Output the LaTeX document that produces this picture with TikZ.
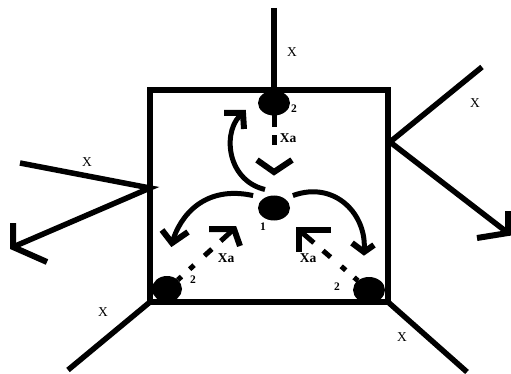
\documentclass[tikz,border=0pt]{standalone}
\usepackage{fontspec}
\setmainfont{Liberation Serif}
\usetikzlibrary{shapes.geometric}
\begin{document}
\begin{tikzpicture}[x=1pt,y=-1pt,
  extline/.style={line width=5.5pt},
  boxline/.style={draw, line width=6pt, inner sep=0pt, outer sep=0pt},
  dot/.style={ellipse, fill=black, inner sep=0pt, outer sep=0pt, minimum width=32pt, minimum height=25pt},
  lbl/.style={font=\fontsize{13.5}{13.5}\selectfont, inner sep=0pt},
  xalbl/.style={font=\bfseries\fontsize{13.5}{13.5}\selectfont, inner sep=0pt},
  num/.style={font=\bfseries\fontsize{11.5}{11.5}\selectfont, inner sep=0pt},
  flow/.style={line width=5pt},
  barb/.style={line width=6pt, line join=miter, miter limit=10},
]
\useasboundingbox (0,0) rectangle (511,374);

% square
\node[boxline, minimum width=238pt, minimum height=212pt] (box) at (269,196) {};

% external lines
\coordinate (etop) at (274,8);
\coordinate (lj) at (150,188);
\coordinate (el1) at (20,163);
\coordinate (el2) at (13,247);
\coordinate (el2a) at (13,223);
\coordinate (el2b) at (47,262);
\coordinate (rj) at (390,142);
\coordinate (er1) at (482,67);
\coordinate (er2) at (508,233);
\coordinate (er2a) at (508,211);
\coordinate (er2b) at (477,238);
\coordinate (ebl) at (68,370);
\coordinate (ebr) at (467,372);

% dots
\node[dot] (d2t) at (274,103) {};
\node[dot] (d1) at (274,208) {};
\node[dot, minimum width=30pt, minimum height=26pt] (d2bl) at (167,289) {};
\node[dot, minimum width=32pt, minimum height=26pt] (d2br) at (369,290) {};

\draw[extline, line join=miter] (etop) -- (d2t.center);
\draw[extline, line join=miter] (el1) -- (lj) -- (el2);
\draw[barb] (el2a) -- (el2) -- (el2b);
\draw[extline, line join=miter] (er1) -- (rj) -- (er2);
\draw[barb] (er2a) -- (er2) -- (er2b);
\draw[extline] (box.south west) -- (ebl);
\draw[extline] (box.south east) -- (ebr);

% dashed flows
\coordinate (tt) at (274,172);
\coordinate (tta) at (257,160);
\coordinate (ttb) at (292,160);
\coordinate (tbl) at (234,229);
\coordinate (tbla) at (209,229);
\coordinate (tblb) at (240,246);
\coordinate (tbr) at (299,230);
\coordinate (tbra) at (331,230);
\coordinate (tbrb) at (299,252);
\draw[flow, dash pattern=on 12pt off 8pt on 10pt off 100pt] (d2t.south) -- (tt);
\draw[barb] (tta) -- (tt) -- (ttb);
\draw[flow, dash pattern=on 5pt off 11pt on 6pt off 14pt on 10pt off 12pt on 30pt] (d2bl.40) -- (tbl);
\draw[barb] (tbla) -- (tbl) -- (tblb);
\draw[flow, dash pattern=on 5pt off 11pt on 6pt off 14pt on 10pt off 12pt on 30pt] (d2br.140) -- (tbr);
\draw[barb] (tbra) -- (tbr) -- (tbrb);

% curved arrows
\coordinate (ctl) at (243,113);
\coordinate (ctla) at (224,113);
\coordinate (ctlb) at (244,129);
\coordinate (cl) at (172,243);
\coordinate (cla) at (162,230);
\coordinate (clb) at (188,232);
\coordinate (cr) at (364,252);
\coordinate (cra) at (352,243);
\coordinate (crb) at (374,245);
\draw[flow] ([shift={(-9,-6)}]d1.north) .. controls (225,180) and (222,128) .. (ctl);
\draw[barb] (ctla) -- (ctl) -- (ctlb);
\draw[flow] ([shift={(-8,-5)}]d1.150) .. controls (205,185) and (180,215) .. (cl);
\draw[barb] (cla) -- (cl) -- (clb);
\draw[flow] ([shift={(6,-5)}]d1.30) .. controls (335,180) and (368,215) .. (cr);
\draw[barb] (cra) -- (cr) -- (crb);

% labels
\node[lbl] (xtop) at (292,52) {X};
\node[num] (n2t) at (294,109) {2};
\node[xalbl] (xat) at (288,138) {Xa};
\node[num] (n1) at (263,227) {1};
\node[num] (n2bl) at (193,280) {2};
\node[xalbl] (xabl) at (226,258) {Xa};
\node[num] (n2br) at (337,287) {2};
\node[xalbl] (xabr) at (308,258) {Xa};
\node[lbl] (xl) at (87,162) {X};
\node[lbl] (xbl) at (103,312) {X};
\node[lbl] (xr) at (475,103) {X};
\node[lbl] (xbr) at (402,337) {X};
\end{tikzpicture}
\end{document}
